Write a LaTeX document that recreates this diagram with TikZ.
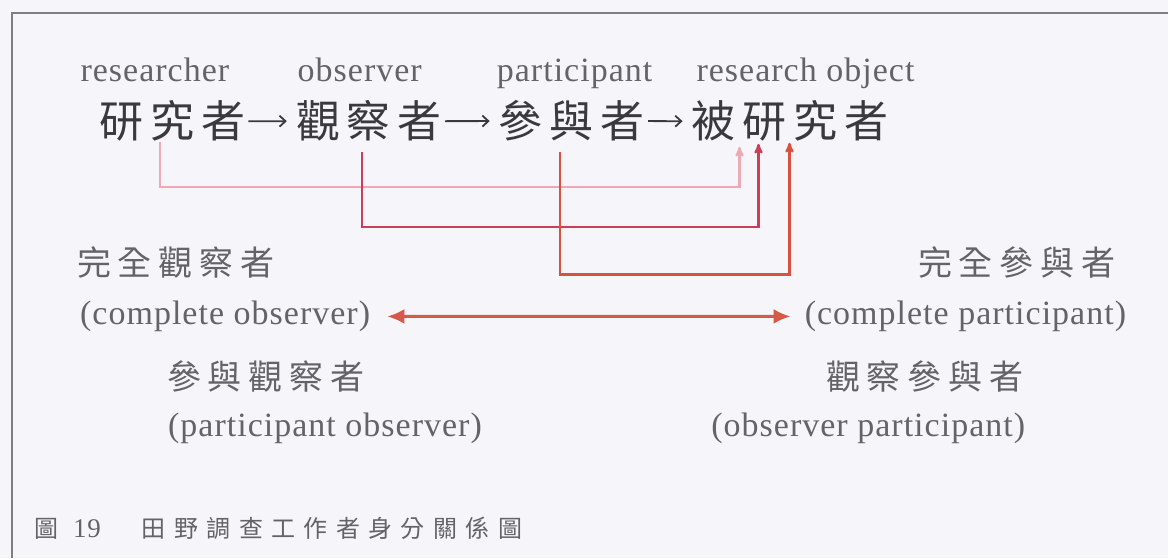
\documentclass[tikz,border=0pt]{standalone}
\usepackage{fontspec}
\setmainfont{Liberation Serif}[LetterSpace=3]
\newfontfamily\cjkmain{Noto Sans CJK TC}[LetterSpace=16]
\newfontfamily\cjkside{Noto Sans CJK TC}[LetterSpace=20]
\newfontfamily\cjkcap{Noto Sans CJK TC}[LetterSpace=35]
\usepackage{xcolor}
\usetikzlibrary{arrows,arrows.meta,positioning}

\definecolor{paper}{RGB}{246,245,249}
\definecolor{framegray}{RGB}{125,125,130}
\definecolor{ink}{RGB}{58,58,60}
\definecolor{softink}{RGB}{100,100,104}
\definecolor{linkA}{RGB}{236,170,180}
\definecolor{linkB}{RGB}{204,62,86}
\definecolor{linkC}{RGB}{214,82,62}
\definecolor{spanred}{RGB}{214,88,72}

\begin{document}
\begin{tikzpicture}[x=1pt,y=-1pt,>=stealth',
  role/.style={font=\cjkmain\fontsize{44}{48}\selectfont,text=ink,inner sep=0pt,anchor=base west},
  gloss/.style={font=\fontsize{34}{38}\selectfont,text=softink,inner sep=0pt,anchor=base},
  stance/.style={font=\cjkside\fontsize{34}{38}\selectfont,text=softink,inner sep=0pt},
  engl/.style={font=\fontsize{34}{38}\selectfont,text=softink,inner sep=0pt},
  next/.style={draw=ink,line width=1.8pt,-{Straight Barb[length=6pt,width=11pt]}},
  link/.style={line width=2.2pt,->},
  span/.style={draw=spanred,line width=3pt,{Latex[length=17pt,width=15pt]}-{Latex[length=17pt,width=15pt]}}]

  \fill[paper] (0,0) rectangle (1169,558);
  \draw[framegray,line width=1.5pt] (1169,13) -| (12,558);

  % chain of roles
  \node[role] (res) at (99,138) {研究者};
  \node[role] (obs) at (296,138) {觀察者};
  \node[role] (par) at (499,138) {參與者};
  \node[role] (obj) at (692,138) {被研究者};
  \draw[next,shorten <=3pt,shorten >=9pt] (res.east) -- (obs.west);
  \draw[next,shorten <=3pt,shorten >=9pt] (obs.east) -- (par.west);
  \draw[next,shorten <=3pt,shorten >=9pt] (par.east) -- (obj.west);

  \node[gloss] (gres) at (155,82) {researcher};
  \node[gloss] (gobs) at (360,82) {observer};
  \node[gloss] (gpar) at (575,82) {participant};
  \node[gloss] (gobj) at (806,82) {research object};

  % who turns into the object
  \draw[link,linkA] ([xshift=61pt]res.south west) -- ++(0,45)
        -| ([xshift=48pt,yshift=-5pt]obj.south west);
  \draw[link,linkB] ([xshift=66pt,yshift=-10pt]obs.south west) -- ++(0,75)
        -| ([xshift=67pt,yshift=-2pt]obj.south west);
  \draw[link,linkC] ([xshift=61pt,yshift=-10pt]par.south west) -- ++(0,123)
        -| ([xshift=98pt,yshift=-1pt]obj.south west);

  % the four stances
  \node[stance,anchor=west] (cobs) at (77,263) {完全觀察者};
  \node[stance,anchor=east] (cpar) at (1116,263) {完全參與者};
  \node[stance,anchor=west] (pobs) at (167,377) {參與觀察者};
  \node[stance,anchor=east] (opar) at (1024,377) {觀察參與者};
  \node[engl,below=22pt of cobs.south west,anchor=north west,xshift=3pt] (cobsen) {(complete observer)};
  \node[engl,below=22pt of cpar.south east,anchor=north east,xshift=11pt] (cparen) {(complete participant)};
  \node[engl,below=20pt of pobs.south west,anchor=north west,xshift=1pt] (pobsen) {(participant observer)};
  \node[engl,below=20pt of opar.south east,anchor=north east,xshift=2pt] (oparen) {(observer participant)};
  \draw[span,shorten <=17pt,shorten >=14pt] (cobsen.east) -- (cparen.west);

  \node[font=\cjkcap\fontsize{24}{28}\selectfont,text=softink,inner sep=0pt,anchor=west] (cap) at (34,529)
    {圖\hspace{15pt}{\rmfamily\fontsize{27}{30}\selectfont 19}\hspace{41pt}田野調查工作者身分關係圖};
\end{tikzpicture}
\end{document}
